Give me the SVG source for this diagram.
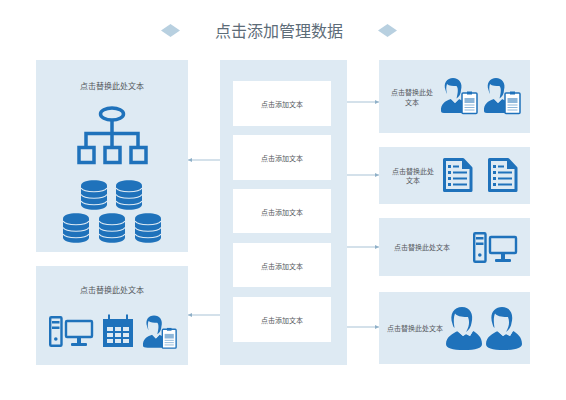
<svg xmlns="http://www.w3.org/2000/svg" width="566" height="400" viewBox="0 0 566 400">
<style>
text{font-family:"Noto Sans CJK SC","Liberation Sans",sans-serif;text-anchor:middle;dominant-baseline:central;fill:#55595d}
.p{fill:#deeaf3}.w{fill:#fff}
.t{font-size:16px;fill:#5d6c78}.m{font-size:8px}.s{font-size:7px}
.b{fill:#1f72bb}.o{fill:none;stroke:#1f72bb}
.c{stroke:#a9c3d6;stroke-width:1;fill:none;marker-end:url(#a)}
</style>
<defs>
<marker id="a" markerWidth="5" markerHeight="5" refX="4" refY="2.5" orient="auto" markerUnits="userSpaceOnUse"><path d="M0 .5L4 2.5L0 4.5Z" fill="#8fb0c8"/></marker>
<g id="db">
<path class="b" d="M0 5.500C0 -1.500 26 -1.500 26 5.500V24.500C26 31.500 0 31.500 0 24.500Z"/>
<path d="M0 8C3 13 23 13 26 8M0 14.500C3 19.500 23 19.500 26 14.500M0 21C3 26 23 26 26 21" fill="none" stroke="#deeaf3" stroke-width="1.200"/>
</g>
<g id="pc">
<rect class="o" x="1.200" y="1.200" width="11.300" height="28.600" rx="1" stroke-width="2.400"/>
<rect class="b" x="3" y="5" width="7.500" height="2.500"/>
<rect class="b" x="3" y="10.500" width="7.500" height="2.500"/>
<circle class="b" cx="6.800" cy="23" r="1.800"/>
<rect class="o" x="17" y="5" width="26" height="16" rx="1" stroke-width="2.400"/>
<rect class="b" x="28" y="22" width="4" height="6"/>
<rect class="b" x="22" y="27" width="16" height="3" rx="1"/>
</g>
<g id="agent">
<path class="b" d="M0 33C-.5 26 4 23 10 21L14 25L18 21C20 22 22 23 23 24V35H5C2 35 0 35 0 33Z"/>
<path fill="#deeaf3" d="M10 21L14 25L18 21L17 18H11Z"/>
<path fill="#deeaf3" d="M5 7C8 5 15 5 17 8C18 13 16 20 11 20C7 19 5 14 5 7Z"/>
<path class="b" d="M4.500 12C2 5 6 0 12 0C18 0 22 5 20 12C20 16 18 19 15.500 20.500C17 15 17.500 10 15.500 8C12 8 8 8 6 6C5 9 5 12 6 16C5.500 15 5 14 4.500 12Z"/>
<rect x="21" y="15" width="15" height="20.500" rx="1" fill="#fff" stroke="#1f72bb" stroke-width="1.500"/>
<rect class="b" x="26" y="13.500" width="5" height="3"/>
<rect x="23.500" y="20" width="10" height="5" fill="#8db6d9"/>
<path d="M23.500 27H33.500M23.500 29.500H33.500M23.500 32H33.500" stroke="#8db6d9"/>
</g>
<g id="doc">
<path d="M1.500 1.500H20L28 10V32.500H1.500Z" fill="none" stroke="#1f72bb" stroke-width="3" stroke-linejoin="round"/>
<path class="b" d="M19 2L28 11H19Z"/>
<path class="b" d="M5 7h3v3h-3zM10 7.500h6v2h-6zM5 13h3v3h-3zM10 13.500h14v2h-14zM5 19h3v3h-3zM10 19.500h14v2h-14zM5 25h3v3h-3zM10 25.500h14v2h-14z"/>
</g>
<g id="man">
<path class="b" d="M0 37C0 30 7 26 12 24L17 29L20 27L24 29L27 24C31 26 36 30 36 37C36 41 30 43 18 43C6 43 0 41 0 37Z"/>
<path fill="#deeaf3" d="M12 20L11 24L17 29L20 27L24 29L27 24L24 20Z"/>
<path fill="#deeaf3" d="M7 9C10 8 22 8 23 11C24 18 21 25 15.500 25C10 24 7 17 7 9Z"/>
<path class="b" d="M6.500 17C3 7 8 0 16 0C24 0 28 7 25.500 16C25 20 23 23 20 25C23 20 24 15 22 10C18 10 12 10 9 6.500C7.500 10 7.500 15 8.500 21C7.500 20 7 19 6.500 17Z"/>
</g>
</defs>
<rect width="566" height="400" fill="#fff"/>
<g id="title">
<path d="M161 30.500L170.500 24L180 30.500L170.500 37Z" fill="#b8d0e0"/>
<path d="M378 30.500L387.500 24L397 30.500L387.500 37Z" fill="#b8d0e0"/>
<text class="t" x="279" y="30">点击添加管理数据</text>
</g>
<g id="connectors">
<path class="c" d="M347 102H379"/>
<path class="c" d="M347 175H379"/>
<path class="c" d="M347 247H379"/>
<path class="c" d="M347 327H379"/>
<path class="c" d="M220 160H188"/>
<path class="c" d="M220 315H188"/>
</g>
<g id="left-top">
<rect class="p" x="36" y="60" width="152" height="192"/>
<text class="m" x="112" y="85">点击替换此处文本</text>
<ellipse class="o" cx="112" cy="114" rx="11.500" ry="6" stroke-width="3.500"/>
<path class="o" d="M112 120V146M86 146V133.500H138V146" stroke-width="3.500"/>
<rect class="o" x="79" y="147.500" width="15" height="15" stroke-width="3.500"/>
<rect class="o" x="105" y="147.500" width="15" height="15" stroke-width="3.500"/>
<rect class="o" x="131" y="147.500" width="15" height="15" stroke-width="3.500"/>
<use href="#db" x="81" y="180"/><use href="#db" x="116" y="180"/>
<use href="#db" x="63" y="213"/><use href="#db" x="99" y="213"/><use href="#db" x="135" y="213"/>
</g>
<g id="left-bottom">
<rect class="p" x="36" y="266" width="152" height="99"/>
<text class="m" x="112" y="289">点击替换此处文本</text>
<use href="#pc" x="49" y="316"/>
<path class="b" d="M103 319H133V347H103Z"/>
<path d="M109 314.500V321M127 314.500V321" stroke="#1f72bb" stroke-width="2"/>
<path d="M107 327h6v4h-6zM115 327h6v4h-6zM123 327h6v4h-6zM107 333h6v4h-6zM115 333h6v4h-6zM123 333h6v4h-6zM107 339h6v4h-6zM115 339h6v4h-6zM123 339h6v4h-6z" fill="#deeaf3"/>
<use href="#agent" transform="translate(143 315.500) scale(.92)"/>
</g>
<g id="center">
<rect class="p" x="220" y="60" width="127" height="305"/>
</g>
<g id="item-1"><rect class="w" x="233" y="81" width="98" height="45"/><text class="s" x="282" y="104">点击添加文本</text></g>
<g id="item-2"><rect class="w" x="233" y="135" width="98" height="45"/><text class="s" x="282" y="158">点击添加文本</text></g>
<g id="item-3"><rect class="w" x="233" y="189" width="98" height="44"/><text class="s" x="282" y="212">点击添加文本</text></g>
<g id="item-4"><rect class="w" x="233" y="243" width="98" height="44"/><text class="s" x="282" y="266">点击添加文本</text></g>
<g id="item-5"><rect class="w" x="233" y="297" width="98" height="45"/><text class="s" x="282" y="320">点击添加文本</text></g>
<g id="right-1">
<rect class="p" x="379" y="60" width="151" height="73"/>
<text class="s" x="412" y="92">点击替换此处</text><text class="s" x="412" y="102">文本</text>
<use href="#agent" x="441" y="78"/><use href="#agent" x="484" y="78"/>
</g>
<g id="right-2">
<rect class="p" x="379" y="147" width="151" height="57"/>
<text class="s" x="413" y="171">点击替换此处</text><text class="s" x="413" y="180">文本</text>
<use href="#doc" x="443" y="158"/><use href="#doc" x="488" y="158"/>
</g>
<g id="right-3">
<rect class="p" x="379" y="218" width="151" height="58"/>
<text class="s" x="422" y="247">点击替换此处文本</text>
<use href="#pc" x="473" y="232"/>
</g>
<g id="right-4">
<rect class="p" x="379" y="292" width="151" height="72"/>
<text class="s" x="415" y="328">点击替换此处文本</text>
<use href="#man" x="446" y="307"/><use href="#man" x="486" y="307"/>
</g>
</svg>
